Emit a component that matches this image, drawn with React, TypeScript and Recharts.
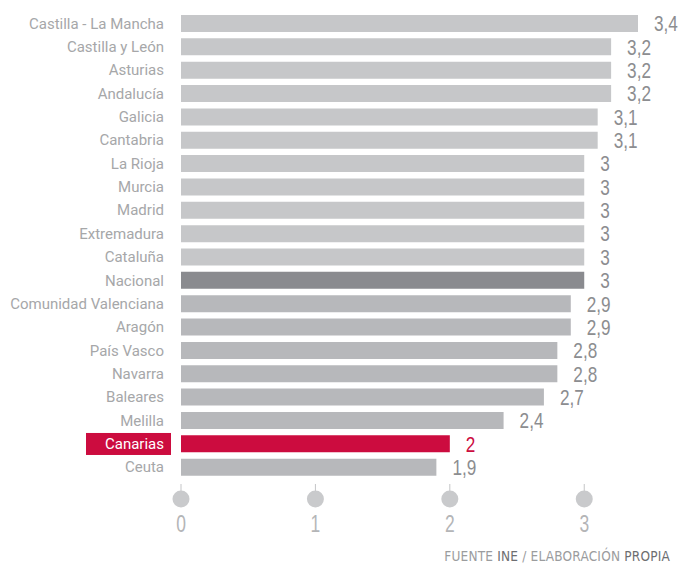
import { BarChart, Bar, XAxis, YAxis, Cell, LabelList } from 'recharts'

const regions = [
  'Castilla - La Mancha', 'Castilla y León', 'Asturias', 'Andalucía', 'Galicia',
  'Cantabria', 'La Rioja', 'Murcia', 'Madrid', 'Extremadura', 'Cataluña', 'Nacional',
  'Comunidad Valenciana', 'Aragón', 'País Vasco', 'Navarra', 'Baleares', 'Melilla',
  'Canarias', 'Ceuta',
]
const values = [3.4, 3.2, 3.2, 3.2, 3.1, 3.1, 3, 3, 3, 3, 3, 3, 2.9, 2.9, 2.8, 2.8, 2.7, 2.4, 2, 1.9]
const xTicks = [0, 1, 2, 3]

const HIGHLIGHT = 'Canarias'
const NATIONAL  = 'Nacional'

const data = regions.map((name, i) => ({ name, value: values[i] }))

const RED = '#cc0c3f'
// narrow look for the numbers: no condensed font installed, so squeeze it
const NUM_FONT = "'Liberation Sans', Arial, sans-serif"

function barColor(name: string, i: number) {
  if (name === HIGHLIGHT) return RED
  if (name === NATIONAL) return '#8a8b8f'
  return i < regions.indexOf(NATIONAL) ? '#c6c7c9' : '#b7b8bb'
}

const fmt = (v: number) => String(v).replace('.', ',')

function RegionTick({ x, y, payload }: any) {
  const isHi = payload.value === HIGHLIGHT
  return (
    <g>
      {isHi && <rect x={x - 78} y={y - 11} width={85} height={22} fill={RED} />}
      <text
        x={x} y={y} textAnchor="end" dominantBaseline="central"
        fontFamily="Roboto, sans-serif" fontSize={15}
        fill={isHi ? '#ffffff' : '#a6a7a9'}
      >
        {payload.value}
      </text>
    </g>
  )
}

function ValueTick({ x, y, payload }: any) {
  return (
    <g>
      <line x1={x} x2={x} y1={y + 5} y2={y + 13} stroke="#c4c5c7" strokeWidth={1} />
      <circle cx={x} cy={y + 20} r={8.5} fill="#c9cacc" />
      <text
        transform={`translate(${x},${y + 45}) scale(0.76,1)`}
        textAnchor="middle" dominantBaseline="central"
        fontFamily={NUM_FONT} fontSize={23} fill="#b4b5b7"
      >
        {payload.value}
      </text>
    </g>
  )
}

function ValueLabel({ x, y, width, height, value, index }: any) {
  const isHi = regions[index] === HIGHLIGHT
  return (
    <text
      transform={`translate(${x + width + 16},${y + height / 2}) scale(0.78,1)`}
      dominantBaseline="central"
      fontFamily={NUM_FONT} fontSize={22} fill={isHi ? RED : '#8c8d90'}
    >
      {fmt(value)}
    </text>
  )
}

export default function App() {
  return (
    <div style={{ position: 'absolute', left: 0, top: 0, width: 682, height: 563, background: '#fff' }}>
      <BarChart
        width={682}
        height={563}
        data={data}
        layout="vertical"
        margin={{ top: 12, right: 44, bottom: 0, left: 0 }}
        barSize={17}
      >
        <XAxis
          type="number"
          domain={[0, 3.4]}
          ticks={xTicks}
          height={84}
          axisLine={false}
          tickLine={false}
          tickSize={0}
          tickMargin={0}
          tick={<ValueTick />}
          interval={0}
        />
        <YAxis
          type="category"
          dataKey="name"
          width={181}
          axisLine={false}
          tickLine={false}
          tickSize={0}
          tickMargin={17}
          tick={<RegionTick />}
          interval={0}
        />
        <Bar dataKey="value" isAnimationActive={false}>
          {data.map((d, i) => (
            <Cell key={d.name} fill={barColor(d.name, i)} />
          ))}
          <LabelList dataKey="value" content={<ValueLabel />} />
        </Bar>
      </BarChart>
      <div
        style={{
          position: 'absolute', right: 12, top: 548,
          fontFamily: "'DejaVu Sans Condensed', Roboto, sans-serif", fontSize: 13.5,
          color: '#9b9c9e', letterSpacing: 0.2, whiteSpace: 'nowrap',
        }}
      >
        FUENTE <span style={{ color: '#6d6e71' }}>INE</span> / ELABORACIÓN{' '}
        <span style={{ color: '#6d6e71' }}>PROPIA</span>
      </div>
    </div>
  )
}
